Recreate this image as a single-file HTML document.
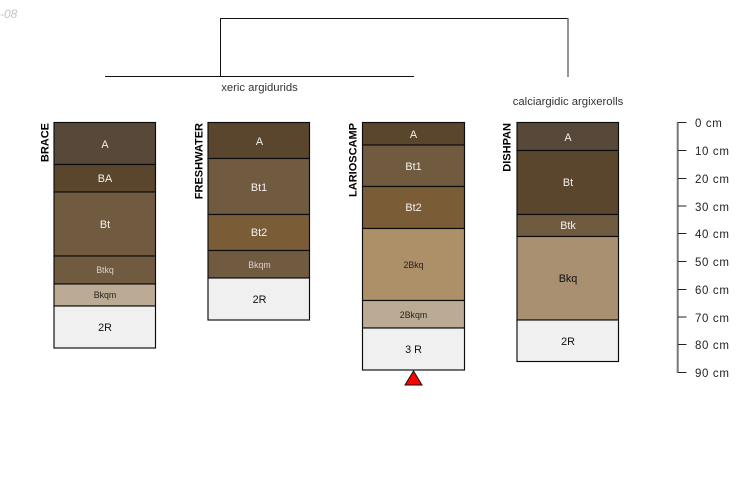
<!DOCTYPE html>
<html>
<head>
<meta charset="utf-8">
<style>
html,body{margin:0;padding:0;background:#fff;width:750px;height:500px;overflow:hidden}
svg{display:block}
text{font-family:"Liberation Sans",sans-serif}
.h{font-size:10.8px;text-anchor:middle;fill:#f4f2ee}
.d{font-size:10.8px;text-anchor:middle;fill:#111}
.hs{font-size:8.8px;text-anchor:middle;fill:#d8d3cb}
.ds{font-size:8.8px;text-anchor:middle;fill:#222}
.n{font-size:11px;font-weight:bold;fill:#000;text-anchor:end}
.a{font-size:11.5px;letter-spacing:.65px;fill:#222}
.t{font-size:11.3px;fill:#333}
rect{stroke:#0c0c0c;stroke-width:1.15}
</style>
</head>
<body>
<svg width="750" height="500" viewBox="0 0 750 500" xmlns="http://www.w3.org/2000/svg">
<text x="0" y="18" font-size="12" font-style="italic" fill="#c4c4c4">-08</text>

<g fill="none" stroke="#111" stroke-width="1">
<path d="M105 76.5H414"/>
<path d="M220.5 76V18.5H568"/>
</g>
<path d="M568 18V77" fill="none" stroke="#666" stroke-width="1.4"/>
<text class="t" x="259.5" y="91" text-anchor="middle">xeric argidurids</text>
<text class="t" x="568" y="105" text-anchor="middle">calciargidic argixerolls</text>

<!-- BRACE -->
<rect x="54" y="122.5" width="101.5" height="42" fill="#57483a"/>
<rect x="54" y="164.5" width="101.5" height="27.5" fill="#5a452d"/>
<rect x="54" y="192" width="101.5" height="64" fill="#705a40"/>
<rect x="54" y="256" width="101.5" height="28" fill="#705a40"/>
<rect x="54" y="284" width="101.5" height="22" fill="#bcab94"/>
<rect x="54" y="306" width="101.5" height="42" fill="#f0f0f0"/>
<text class="h" x="105" y="148">A</text>
<text class="h" x="105" y="182">BA</text>
<text class="h" x="105" y="228">Bt</text>
<text class="hs" x="105" y="273">Btkq</text>
<text class="ds" x="105" y="298">Bkqm</text>
<text class="d" x="105" y="331">2R</text>
<text class="n" transform="translate(48.6,123) rotate(-90)">BRACE</text>

<!-- FRESHWATER -->
<rect x="208" y="122.5" width="101.5" height="36" fill="#5a452d"/>
<rect x="208" y="158.5" width="101.5" height="56" fill="#705a40"/>
<rect x="208" y="214.5" width="101.5" height="36" fill="#7a5c37"/>
<rect x="208" y="250.5" width="101.5" height="27.5" fill="#705a40"/>
<rect x="208" y="278" width="101.5" height="42" fill="#f0f0f0"/>
<text class="h" x="259.5" y="145">A</text>
<text class="h" x="259" y="191">Bt1</text>
<text class="h" x="259" y="236">Bt2</text>
<text class="hs" x="259.5" y="268">Bkqm</text>
<text class="d" x="259.5" y="303">2R</text>
<text class="n" transform="translate(202.6,123) rotate(-90)">FRESHWATER</text>

<!-- LARIOSCAMP -->
<rect x="362.5" y="122.5" width="102" height="22.5" fill="#5a452d"/>
<rect x="362.5" y="145" width="102" height="41.5" fill="#705a40"/>
<rect x="362.5" y="186.5" width="102" height="42" fill="#7a5c37"/>
<rect x="362.5" y="228.5" width="102" height="72" fill="#ad9068"/>
<rect x="362.5" y="300.5" width="102" height="27.5" fill="#bcab94"/>
<rect x="362.5" y="328" width="102" height="42" fill="#f0f0f0"/>
<text class="h" x="413.5" y="138">A</text>
<text class="h" x="413.5" y="170">Bt1</text>
<text class="h" x="413.5" y="211">Bt2</text>
<text class="ds" x="413.5" y="268">2Bkq</text>
<text class="ds" x="413.5" y="318">2Bkqm</text>
<text class="d" x="413.5" y="353">3 R</text>
<text class="n" transform="translate(356.6,123) rotate(-90)">LARIOSCAMP</text>
<polygon points="405,385 422,385 413.5,371" fill="#ff0000" stroke="#111" stroke-width="1"/>

<!-- DISHPAN -->
<rect x="517" y="122.5" width="101.5" height="28" fill="#57483a"/>
<rect x="517" y="150.5" width="101.5" height="64" fill="#5a452d"/>
<rect x="517" y="214.5" width="101.5" height="22" fill="#705a40"/>
<rect x="517" y="236.5" width="101.5" height="83.5" fill="#a89070"/>
<rect x="517" y="320" width="101.5" height="41.5" fill="#f0f0f0"/>
<text class="h" x="568" y="141">A</text>
<text class="h" x="568" y="186">Bt</text>
<text class="h" x="568" y="229">Btk</text>
<text class="d" x="568" y="282">Bkq</text>
<text class="d" x="568" y="345">2R</text>
<text class="n" transform="translate(510.6,123) rotate(-90)">DISHPAN</text>

<!-- depth axis -->
<path d="M677.7 122V373" stroke="#777" stroke-width="2" fill="none"/>
<path d="M678 122.5h8.5M678 150.5h8.5M678 178.5h8.5M678 206h8.5M678 233.5h8.5M678 261.5h8.5M678 289.5h8.5M678 317h8.5M678 344.5h8.5M678 372.5h8.5" stroke="#222" stroke-width="1" fill="none"/>
<text class="a" x="695" y="127">0 cm</text>
<text class="a" x="695" y="155">10 cm</text>
<text class="a" x="695" y="183">20 cm</text>
<text class="a" x="695" y="211">30 cm</text>
<text class="a" x="695" y="238">40 cm</text>
<text class="a" x="695" y="266">50 cm</text>
<text class="a" x="695" y="294">60 cm</text>
<text class="a" x="695" y="322">70 cm</text>
<text class="a" x="695" y="349">80 cm</text>
<text class="a" x="695" y="377">90 cm</text>
</svg>
</body>
</html>
